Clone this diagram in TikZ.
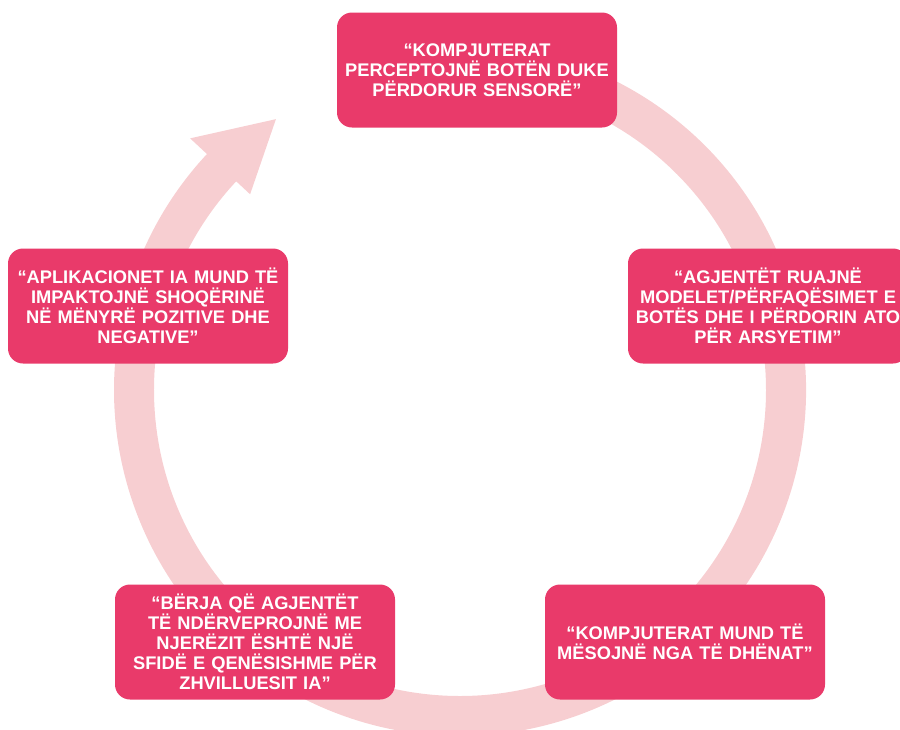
\documentclass[tikz,border=0pt]{standalone}
\usepackage{fontspec}
\setmainfont{Liberation Sans}
\usepackage{xcolor}
\usepackage{tikz}
\usetikzlibrary{positioning}
\definecolor{ideapink}{RGB}{233,58,106}
\definecolor{ringpink}{RGB}{247,206,209}
\tikzstyle{idea} = [rectangle, rounded corners=0.3cm, minimum width=5.6cm, minimum height=2.3cm, text width=5.4cm, align=center, fill=ideapink, text=white, font=\bfseries\fontsize{10.4}{11.4}\selectfont, inner sep=0pt]

\begin{document}
\begin{tikzpicture}
    \useasboundingbox (0,0) rectangle (18,-14.6);
    % the cycle ring with its arrow head
    \begin{scope}[shift={(9.2,-7.8)}]
        \fill [ringpink] (105:6.92) arc[start angle=105, end angle=-223, radius=6.92]
            -- (-223:7.38) -- (-235.8:6.55) -- (-223:5.74) -- (-223:6.12)
            arc[start angle=-223, end angle=105, radius=6.12] -- cycle;
    \end{scope}
    \node (sense) [idea] at (9.54,-1.4) {“KOMPJUTERAT\\PERCEPTOJNË BOTËN DUKE\\PËRDORUR SENSORË”};
    \node (model) [idea] at (15.36,-6.12) {“AGJENTËT RUAJNË\\MODELET/PËRFAQËSIMET E\\BOTËS DHE I PËRDORIN ATO\\PËR ARSYETIM”};
    \node (learn) [idea] at (13.7,-12.84) {“KOMPJUTERAT MUND TË\\MËSOJNË NGA TË DHËNAT”};
    \node (interact) [idea] at (5.1,-12.84) {“BËRJA QË AGJENTËT\\TË NDËRVEPROJNË ME\\NJERËZIT ËSHTË NJË\\SFIDË E QENËSISHME PËR\\ZHVILLUESIT IA”};
    \node (impact) [idea] at (2.96,-6.12) {“APLIKACIONET IA MUND TË\\IMPAKTOJNË SHOQËRINË\\NË MËNYRË POZITIVE DHE\\NEGATIVE”};
\end{tikzpicture}
\end{document}
